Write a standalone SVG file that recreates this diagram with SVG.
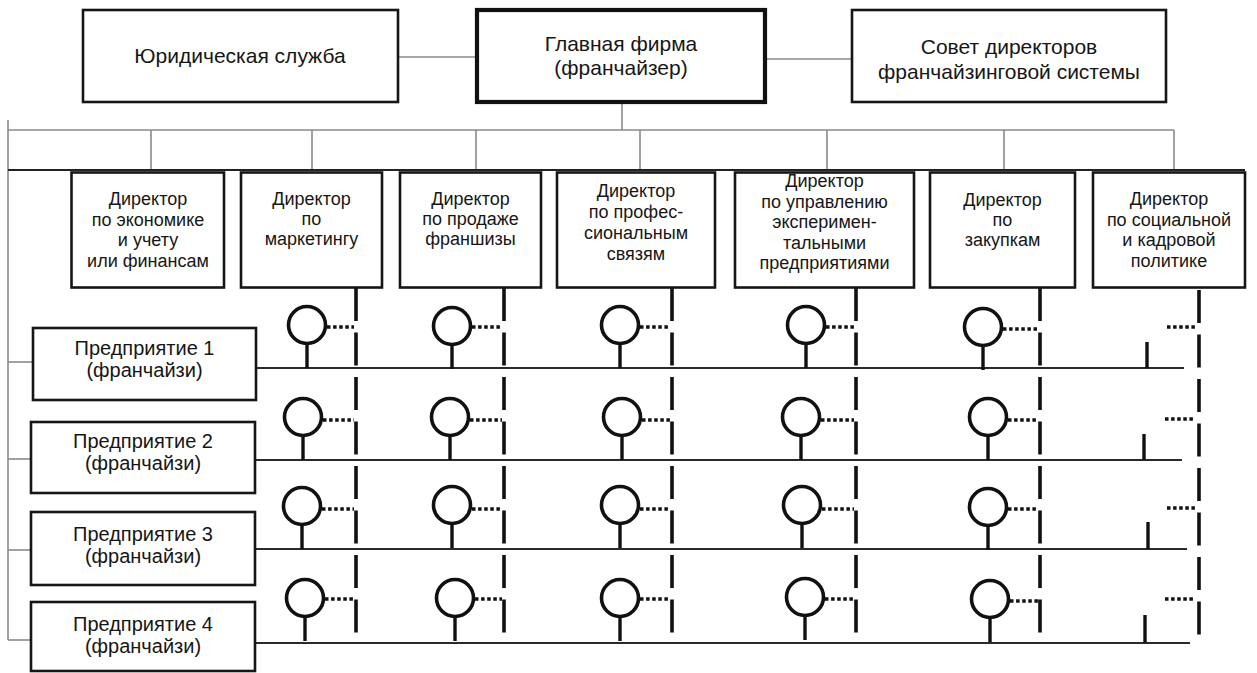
<svg xmlns="http://www.w3.org/2000/svg" width="1257" height="673" viewBox="0 0 1257 673">
<defs>
<style>
text{font-family:"Liberation Sans",Arial,sans-serif;fill:#161616;text-anchor:middle}
.t1{font-size:21px}
.t2{font-size:18px}
.t3{font-size:20px}
.box{fill:#fff;stroke:#161616;stroke-width:2.6}
.main{fill:#fff;stroke:#111;stroke-width:4.2}
.thin{stroke:#8a8a8a;stroke-width:1.6;fill:none}
.dark{stroke:#222;stroke-width:2;fill:none}
.row{stroke:#2a2a2a;stroke-width:2.2;fill:none}
.dash{stroke:#111;stroke-width:3.6;stroke-dasharray:33 11.5;fill:none}
.dots{stroke:#111;stroke-width:3.6;stroke-dasharray:3.5 2.6;fill:none}
.circ{fill:#fff;stroke:#111;stroke-width:3.6}
.stem{stroke:#111;stroke-width:3.4;fill:none}
</style>
<g id="sym">
<circle class="circ" cx="0" cy="0" r="18.5"/>
<line class="stem" x1="0" y1="20" x2="0" y2="43"/>
</g>
</defs>
<rect width="1257" height="673" fill="#fff"/>

<g id="connectors">
<line class="thin" x1="398" y1="57" x2="476" y2="57"/>
<line class="thin" x1="765" y1="59" x2="852" y2="59"/>
<line class="thin" x1="622" y1="102" x2="622" y2="130"/>
<line class="thin" x1="8" y1="130" x2="1174" y2="130"/>
<line class="thin" x1="8" y1="120" x2="8" y2="640"/>
<line class="thin" x1="151" y1="130" x2="151" y2="170"/>
<line class="thin" x1="312" y1="130" x2="312" y2="170"/>
<line class="thin" x1="476" y1="130" x2="476" y2="170"/>
<line class="thin" x1="640" y1="130" x2="640" y2="170"/>
<line class="thin" x1="827" y1="130" x2="827" y2="170"/>
<line class="thin" x1="1004" y1="130" x2="1004" y2="170"/>
<line class="thin" x1="1174" y1="130" x2="1174" y2="170"/>
<line class="dark" x1="8" y1="170" x2="1245" y2="170"/>
<line class="thin" x1="8" y1="362" x2="33" y2="362"/>
<line class="thin" x1="8" y1="459" x2="31" y2="459"/>
<line class="thin" x1="8" y1="550" x2="31" y2="550"/>
<line class="thin" x1="8" y1="640" x2="31" y2="640"/>
<line class="row" x1="256" y1="368" x2="1184" y2="368"/>
<line class="row" x1="255" y1="460" x2="1182" y2="460"/>
<line class="row" x1="255" y1="549" x2="1187" y2="549"/>
<line class="row" x1="255" y1="643" x2="1190" y2="643"/>
<line class="dash" x1="356" y1="288" x2="356" y2="633"/>
<line class="dash" x1="504" y1="288" x2="504" y2="633"/>
<line class="dash" x1="672" y1="288" x2="672" y2="633"/>
<line class="dash" x1="856" y1="288" x2="856" y2="633"/>
<line class="dash" x1="1040" y1="288" x2="1040" y2="633"/>
<line class="dash" x1="1199" y1="290" x2="1199" y2="635"/>
</g>

<g id="symbols">
<use href="#sym" x="307" y="325"/>
<use href="#sym" x="303" y="417"/>
<use href="#sym" x="302" y="506"/>
<use href="#sym" x="305" y="598"/>
<use href="#sym" x="452" y="326"/>
<use href="#sym" x="450" y="417"/>
<use href="#sym" x="452" y="505"/>
<use href="#sym" x="455" y="598"/>
<use href="#sym" x="620" y="325"/>
<use href="#sym" x="622" y="417"/>
<use href="#sym" x="620" y="505"/>
<use href="#sym" x="620" y="598"/>
<use href="#sym" x="806" y="325"/>
<use href="#sym" x="801" y="417"/>
<use href="#sym" x="802" y="505"/>
<use href="#sym" x="805" y="597"/>
<use href="#sym" x="983" y="327"/>
<use href="#sym" x="988" y="417"/>
<use href="#sym" x="988" y="507"/>
<use href="#sym" x="990" y="599"/>
<line class="stem" x1="1147" y1="342" x2="1147" y2="368"/>
<line class="stem" x1="1144" y1="434" x2="1144" y2="460"/>
<line class="stem" x1="1148" y1="522" x2="1148" y2="549"/>
<line class="stem" x1="1145" y1="615" x2="1145" y2="643"/>
<line class="dots" x1="327" y1="327" x2="354" y2="327"/>
<line class="dots" x1="323" y1="420" x2="354" y2="420"/>
<line class="dots" x1="322" y1="509" x2="354" y2="509"/>
<line class="dots" x1="325" y1="599" x2="354" y2="599"/>
<line class="dots" x1="472" y1="327" x2="502" y2="327"/>
<line class="dots" x1="470" y1="420" x2="502" y2="420"/>
<line class="dots" x1="472" y1="509" x2="502" y2="509"/>
<line class="dots" x1="475" y1="599" x2="502" y2="599"/>
<line class="dots" x1="640" y1="327" x2="670" y2="327"/>
<line class="dots" x1="642" y1="420" x2="670" y2="420"/>
<line class="dots" x1="640" y1="509" x2="670" y2="509"/>
<line class="dots" x1="640" y1="599" x2="670" y2="599"/>
<line class="dots" x1="826" y1="327" x2="854" y2="327"/>
<line class="dots" x1="821" y1="420" x2="854" y2="420"/>
<line class="dots" x1="822" y1="509" x2="854" y2="509"/>
<line class="dots" x1="825" y1="599" x2="854" y2="599"/>
<line class="dots" x1="1003" y1="329" x2="1038" y2="329"/>
<line class="dots" x1="1008" y1="420" x2="1038" y2="420"/>
<line class="dots" x1="1008" y1="509" x2="1038" y2="509"/>
<line class="dots" x1="1010" y1="601" x2="1038" y2="601"/>
<line class="dots" x1="1167" y1="327" x2="1197" y2="327"/>
<line class="dots" x1="1165" y1="419" x2="1195" y2="419"/>
<line class="dots" x1="1167" y1="508" x2="1197" y2="508"/>
<line class="dots" x1="1165" y1="599" x2="1195" y2="599"/>
</g>

<g id="legal">
<rect class="box" x="83" y="10" width="315" height="92"/>
<text class="t1" x="240" y="63">Юридическая служба</text>
</g>
<g id="main-firm">
<rect class="main" x="477" y="10" width="288" height="92"/>
<text class="t1" x="621" y="51">Главная фирма</text>
<text class="t1" x="621" y="75">(франчайзер)</text>
</g>
<g id="board">
<rect class="box" x="852" y="10" width="314" height="92"/>
<text class="t1" x="1009" y="54">Совет директоров</text>
<text class="t1" x="1009" y="79">франчайзинговой системы</text>
</g>

<g id="dir-economy">
<rect class="box" x="71.5" y="172.5" width="152.5" height="115"/>
<text class="t2" x="148" y="205">Директор</text>
<text class="t2" x="148" y="225.5">по экономике</text>
<text class="t2" x="148" y="246">и учету</text>
<text class="t2" x="148" y="266.5">или финансам</text>
</g>
<g id="dir-marketing">
<rect class="box" x="241" y="172.5" width="141" height="115"/>
<text class="t2" x="311.5" y="205">Директор</text>
<text class="t2" x="311.5" y="225">по</text>
<text class="t2" x="311.5" y="245">маркетингу</text>
</g>
<g id="dir-sales">
<rect class="box" x="400" y="172.5" width="141" height="115"/>
<text class="t2" x="470.5" y="205">Директор</text>
<text class="t2" x="470.5" y="225">по продаже</text>
<text class="t2" x="470.5" y="245">франшизы</text>
</g>
<g id="dir-prof">
<rect class="box" x="557" y="172.5" width="158" height="115"/>
<text class="t2" x="636" y="197">Директор</text>
<text class="t2" x="636" y="218">по профес-</text>
<text class="t2" x="636" y="239">сиональным</text>
<text class="t2" x="636" y="260">связям</text>
</g>
<g id="dir-experimental">
<rect class="box" x="735" y="172.5" width="179" height="115"/>
<text class="t2" x="824.5" y="187">Директор</text>
<text class="t2" x="824.5" y="207.5">по управлению</text>
<text class="t2" x="824.5" y="228">эксперимен-</text>
<text class="t2" x="824.5" y="248.5">тальными</text>
<text class="t2" x="824.5" y="269">предприятиями</text>
</g>
<g id="dir-purchasing">
<rect class="box" x="930" y="172.5" width="145" height="115"/>
<text class="t2" x="1002.5" y="206">Директор</text>
<text class="t2" x="1002.5" y="226">по</text>
<text class="t2" x="1002.5" y="246">закупкам</text>
</g>
<g id="dir-social">
<rect class="box" x="1093" y="172.5" width="152" height="115"/>
<text class="t2" x="1169" y="205">Директор</text>
<text class="t2" x="1169" y="225.5">по социальной</text>
<text class="t2" x="1169" y="246">и кадровой</text>
<text class="t2" x="1169" y="266.5">политике</text>
</g>

<g id="enterprise-1">
<rect class="box" x="33" y="328" width="223" height="72"/>
<text class="t3" x="144.5" y="355">Предприятие 1</text>
<text class="t3" x="144.5" y="377">(франчайзи)</text>
</g>
<g id="enterprise-2">
<rect class="box" x="31" y="422" width="224" height="71"/>
<text class="t3" x="143" y="448">Предприятие 2</text>
<text class="t3" x="143" y="470">(франчайзи)</text>
</g>
<g id="enterprise-3">
<rect class="box" x="31" y="512" width="224" height="73"/>
<text class="t3" x="143" y="541">Предприятие 3</text>
<text class="t3" x="143" y="563">(франчайзи)</text>
</g>
<g id="enterprise-4">
<rect class="box" x="31" y="602" width="224" height="69"/>
<text class="t3" x="143" y="631">Предприятие 4</text>
<text class="t3" x="143" y="653">(франчайзи)</text>
</g>
</svg>
